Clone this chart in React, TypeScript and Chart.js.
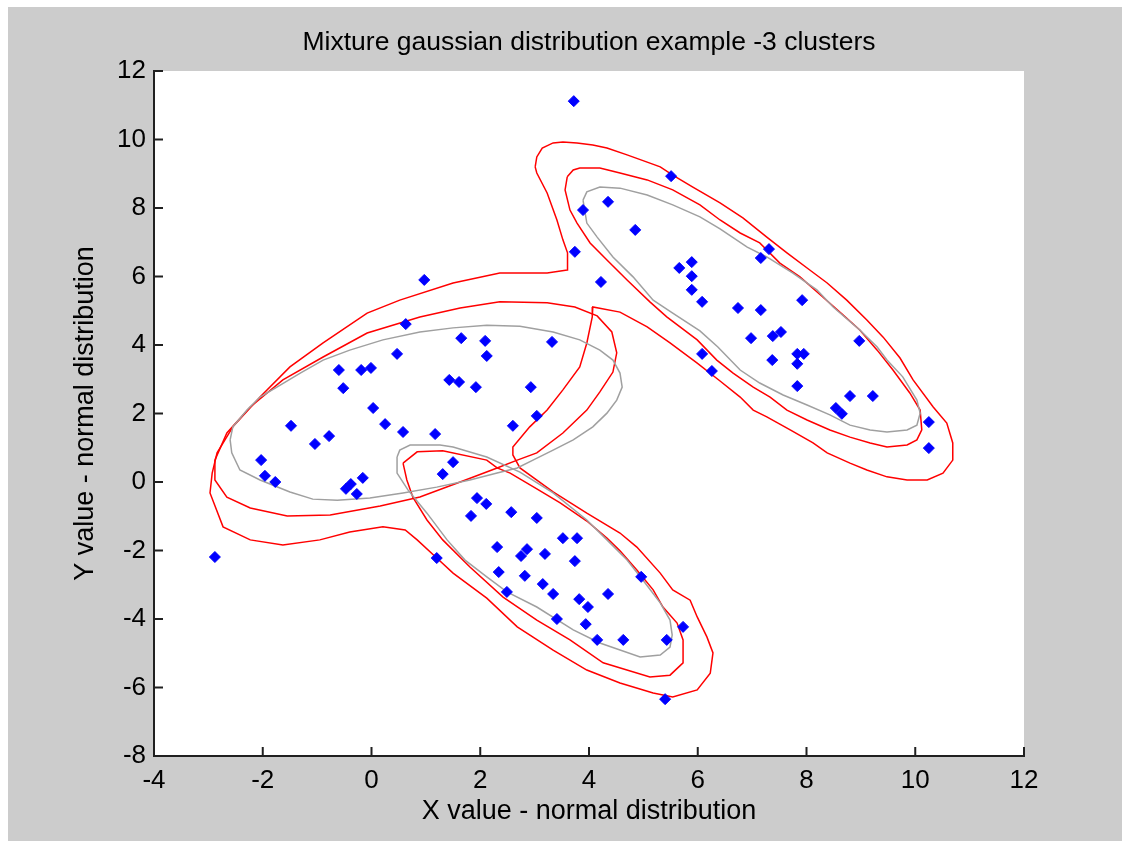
import { useEffect, useRef } from "react";
import { Chart, registerables } from "chart.js";

Chart.register(...registerables);

type Pt = [number, number];

const titleText = "Mixture gaussian distribution example -3 clusters";
const xAxisLabel = "X value - normal distribution";
const yAxisLabel = "Y value - normal distribution";
const xRange = [-4, 12];
const yRange = [-8, 12];
const tickStep = 2;

// sample points
const clusterA: Pt[] = [
  [0.97, 5.9], [0.63, 4.61], [0.47, 3.74], [-0.6, 3.27], [-0.19, 3.27], [-0.01, 3.33],
  [-0.52, 2.74], [1.43, 2.98], [1.61, 2.92], [0.03, 2.16], [-1.48, 1.64], [-0.78, 1.34],
  [-1.04, 1.11], [0.25, 1.69], [0.58, 1.46], [1.17, 1.4], [-2.03, 0.64], [-1.96, 0.18],
  [-1.77, 0.0], [-0.47, -0.2], [-0.38, -0.06], [-0.16, 0.12], [-0.27, -0.35], [1.31, 0.23],
  [1.5, 0.58], [1.65, 4.2], [2.09, 4.12], [2.12, 3.68], [3.32, 4.09], [1.92, 2.77],
  [2.93, 2.77], [3.04, 1.93], [2.6, 1.64], [-2.88, -2.19], [3.72, 11.12],
];
const clusterB: Pt[] = [
  [5.51, 8.93], [3.89, 7.94], [4.35, 8.18], [4.85, 7.36], [3.74, 6.72], [4.22, 5.84],
  [5.66, 6.25], [5.89, 6.42], [5.89, 6.01], [5.89, 5.61], [6.08, 5.26], [7.31, 6.8],
  [7.16, 6.54], [6.74, 5.08], [7.16, 5.02], [7.92, 5.31], [6.98, 4.2], [7.38, 4.26],
  [7.53, 4.38], [8.97, 4.12], [6.08, 3.74], [6.26, 3.24], [7.37, 3.56], [7.83, 3.74],
  [7.95, 3.74], [7.83, 3.45], [7.83, 2.8], [8.8, 2.51], [9.22, 2.51], [8.54, 2.16],
  [8.65, 1.99], [10.25, 1.75], [10.25, 0.99],
];
const clusterC: Pt[] = [
  [1.94, -0.47], [2.11, -0.64], [1.83, -0.99], [2.57, -0.88], [3.04, -1.05], [3.52, -1.64],
  [3.78, -1.64], [2.31, -1.9], [2.86, -1.96], [1.2, -2.22], [2.75, -2.16], [3.19, -2.1],
  [3.74, -2.31], [2.34, -2.63], [2.82, -2.74], [3.15, -2.98], [3.34, -3.27], [3.82, -3.42],
  [3.98, -3.65], [4.35, -3.27], [2.49, -3.21], [4.96, -2.77], [3.41, -4.0], [3.94, -4.15],
  [4.15, -4.61], [4.63, -4.61], [5.43, -4.61], [5.73, -4.23], [5.4, -6.34],
];

// gray component ellipses (traced)
const grayA: Pt[] = [
  [-2.6, 1.23], [-2.55, 1.61], [-2.29, 2.1], [-2.05, 2.48], [-1.74, 2.77], [-1.31, 3.18],
  [-0.89, 3.56], [-0.4, 3.85], [0.21, 4.15], [0.89, 4.38], [1.5, 4.5], [2.12, 4.58],
  [2.73, 4.55], [3.34, 4.38], [3.83, 4.15], [4.2, 3.85], [4.44, 3.56], [4.57, 3.18],
  [4.61, 2.77], [4.51, 2.39], [4.33, 2.01], [4.07, 1.61], [3.71, 1.23], [3.34, 0.93],
  [2.97, 0.64], [2.68, 0.41], [2.31, 0.26], [1.81, 0.06], [1.2, -0.15], [0.58, -0.32],
  [-0.03, -0.47], [-0.63, -0.53], [-1.08, -0.5], [-1.5, -0.29], [-2.05, 0.06], [-2.42, 0.35],
  [-2.57, 0.85], [-2.6, 1.23],
];
const grayB: Pt[] = [
  [3.89, 8.23], [3.96, 8.47], [4.2, 8.61], [4.57, 8.58], [5.07, 8.38], [5.54, 8.09],
  [6.04, 7.74], [6.41, 7.39], [6.91, 6.86], [7.27, 6.57], [7.75, 6.1], [8.19, 5.61],
  [8.49, 5.11], [8.98, 4.44], [9.3, 3.94], [9.48, 3.56], [9.77, 3.07], [10.03, 2.39],
  [10.09, 2.01], [10.03, 1.66], [9.85, 1.52], [9.48, 1.46], [9.17, 1.52], [8.8, 1.66],
  [8.43, 1.96], [8.01, 2.25], [7.57, 2.54], [7.14, 2.89], [6.78, 3.27], [6.37, 3.94],
  [6.04, 4.41], [5.54, 4.93], [5.18, 5.31], [4.81, 5.99], [4.44, 6.57], [4.15, 7.15],
  [3.96, 7.56], [3.89, 8.23],
];
const grayC: Pt[] = [
  [0.47, 0.73], [0.52, 0.93], [0.71, 1.08], [1.26, 1.08], [1.5, 1.02], [2.12, 0.73],
  [2.73, 0.29], [3.34, -0.32], [3.96, -1.11], [4.33, -1.69], [4.7, -2.28], [4.99, -2.86],
  [5.31, -3.53], [5.49, -4.03], [5.53, -4.47], [5.49, -4.82], [5.31, -5.05], [4.94, -5.11],
  [4.2, -4.7], [3.71, -4.32], [3.04, -3.65], [2.49, -3.21], [2.12, -2.77], [1.72, -2.28],
  [1.39, -1.69], [1.02, -0.91], [0.67, -0.23], [0.47, 0.26], [0.47, 0.73],
];

// red density contours (traced)
const redInnerA: Pt[] = [
  [-2.88, 0.64], [-2.66, 1.43], [-2.23, 2.19], [-1.63, 2.98], [-0.89, 3.65], [-0.08, 4.35],
  [0.89, 4.82], [1.63, 5.08], [2.36, 5.26], [3.23, 5.23], [3.74, 5.11], [4.15, 4.85],
  [4.42, 4.38], [4.51, 3.77], [4.44, 3.21], [4.2, 2.63], [3.96, 2.1], [3.52, 1.43],
  [3.04, 0.85], [2.68, 0.64], [2.31, 0.41], [1.63, 0.0], [0.89, -0.44], [0.16, -0.7],
  [-0.76, -0.96], [-1.55, -0.99], [-2.23, -0.76], [-2.66, -0.44], [-2.88, 0.06], [-2.88, 0.64],
];
const redInnerB: Pt[] = [
  [3.6, 8.91], [3.71, 9.11], [3.83, 9.17], [4.2, 9.17], [4.57, 9.02], [5.07, 8.82],
  [5.54, 8.53], [6.04, 8.09], [6.41, 7.65], [6.78, 7.27], [7.14, 6.98], [7.51, 6.39],
  [7.88, 5.99], [8.3, 5.4], [8.67, 4.88], [8.98, 4.44], [9.3, 3.85], [9.59, 3.27],
  [9.9, 2.6], [10.09, 2.1], [10.12, 1.52], [10.03, 1.23], [9.85, 1.08], [9.48, 1.02],
  [9.17, 1.14], [8.8, 1.31], [8.43, 1.52], [8.01, 1.81], [7.64, 2.1], [7.33, 2.48],
  [7.02, 2.77], [6.65, 3.18], [6.35, 3.56], [5.99, 4.15], [5.43, 4.82], [5.12, 5.26],
  [4.7, 5.9], [4.33, 6.48], [4.02, 6.98], [3.78, 7.56], [3.65, 7.94], [3.56, 8.53], [3.6, 8.91],
];
const redInnerC: Pt[] = [
  [0.58, 0.55], [0.84, 0.88], [1.31, 0.91], [2.12, 0.64], [2.31, 0.41], [2.55, 0.26],
  [3.04, -0.2], [3.47, -0.61], [3.96, -1.14], [4.33, -1.64], [4.57, -2.01], [4.88, -2.57],
  [5.18, -3.15], [5.36, -3.65], [5.62, -4.12], [5.73, -4.61], [5.73, -5.28], [5.49, -5.64],
  [5.12, -5.69], [4.26, -5.28], [3.65, -4.61], [3.04, -4.03], [2.42, -3.36], [1.81, -2.48],
  [1.31, -1.69], [1.02, -1.11], [0.76, -0.44], [0.65, 0.06], [0.58, 0.55],
];
const redOuter: Pt[] = [
  [3.01, 9.2], [3.04, 9.49], [3.14, 9.75], [3.34, 9.9], [3.52, 9.93], [3.78, 9.9],
  [4.07, 9.84], [4.33, 9.75], [4.7, 9.55], [5.07, 9.34], [5.31, 9.2], [5.54, 8.96],
  [5.91, 8.61], [6.41, 8.15], [6.83, 7.71], [7.27, 7.15], [7.64, 6.69], [8.06, 6.19],
  [8.38, 5.81], [8.74, 5.31], [9.11, 4.73], [9.41, 4.23], [9.72, 3.62], [9.96, 2.98],
  [10.33, 2.19], [10.58, 1.72], [10.69, 1.14], [10.69, 0.64], [10.51, 0.26], [10.22, 0.06],
  [9.85, 0.06], [9.48, 0.15], [9.11, 0.35], [8.8, 0.55], [8.38, 0.85], [8.12, 1.14],
  [7.7, 1.52], [7.27, 1.9], [7.02, 2.1], [6.78, 2.48], [6.41, 2.95], [5.99, 3.47],
  [5.49, 4.06], [5.07, 4.53], [4.57, 4.96], [4.07, 5.11], [4.06, 4.82], [3.96, 4.06],
  [3.83, 3.36], [3.52, 2.69], [3.23, 2.1], [2.91, 1.61], [2.6, 1.02], [2.6, 0.79],
  [2.73, 0.41], [3.34, -0.29], [3.96, -0.91], [4.57, -1.49], [4.88, -1.9], [5.31, -2.66],
  [5.54, -3.15], [5.86, -3.45], [5.99, -3.94], [6.17, -4.53], [6.28, -4.99], [6.23, -5.58],
  [5.99, -6.07], [5.54, -6.28], [5.18, -6.16], [4.57, -5.87], [3.96, -5.49], [3.34, -4.91],
  [2.68, -4.23], [2.12, -3.39], [1.5, -2.66], [1.2, -2.22], [0.84, -1.69], [0.62, -1.4],
  [0.21, -1.31], [-0.4, -1.46], [-0.95, -1.69], [-1.63, -1.84], [-2.23, -1.69], [-2.73, -1.31],
  [-2.97, -0.32], [-2.93, 0.26], [-2.84, 0.85], [-2.55, 1.61], [-2.05, 2.48], [-1.5, 3.36],
  [-0.89, 4.06], [-0.08, 4.93], [0.52, 5.31], [1.5, 5.81], [2.36, 6.1], [3.23, 6.1],
  [3.6, 6.19], [3.61, 6.34], [3.6, 6.69], [3.52, 7.07], [3.41, 7.65], [3.23, 8.44],
  [3.04, 9.02], [3.01, 9.2],
];

const FONT = "'Liberation Sans', Arial, Helvetica, sans-serif";
const CANVAS_W = 1122;
const CANVAS_H = 841;

export default function App() {
  const ref = useRef<HTMLCanvasElement | null>(null);

  useEffect(() => {
    document.documentElement.style.overflow = "hidden";
    document.body.style.margin = "0";
    const canvas = ref.current;
    if (!canvas) return;
    const xy = (a: Pt[]) => a.map(([x, y]) => ({ x, y }));

    const pointDs = (data: Pt[]) => ({
      data: xy(data),
      showLine: false,
      pointStyle: "rectRot" as const,
      pointRadius: 5.5,
      pointBackgroundColor: "#0000ff",
      pointBorderColor: "#0000ff",
      pointBorderWidth: 1,
    });
    const lineDs = (data: Pt[], color: string) => ({
      data: xy(data),
      showLine: true,
      borderColor: color,
      borderWidth: 1.5,
      pointRadius: 0,
      fill: false,
      tension: 0,
    });

    const bgPlugin = {
      id: "figureBg",
      beforeDraw(chart: any) {
        const { ctx, chartArea } = chart;
        ctx.save();
        ctx.fillStyle = "#ffffff";
        ctx.fillRect(0, 0, chart.width, chart.height);
        ctx.fillStyle = "#cccccc";
        ctx.fillRect(8, 7, chart.width - 8, chart.height - 7);
        ctx.fillStyle = "#ffffff";
        ctx.fillRect(chartArea.left, chartArea.top, chartArea.right - chartArea.left, chartArea.bottom - chartArea.top);
        ctx.restore();
      },
    };
    const tickPlugin = {
      id: "inwardTicks",
      afterDraw(chart: any) {
        const { ctx, chartArea, scales } = chart;
        ctx.save();
        ctx.strokeStyle = "#202020";
        ctx.lineWidth = 2;
        ctx.beginPath();
        for (const t of scales.x.ticks) {
          const px = scales.x.getPixelForValue(t.value);
          ctx.moveTo(px, chartArea.bottom);
          ctx.lineTo(px, chartArea.bottom - 9);
        }
        for (const t of scales.y.ticks) {
          const py = scales.y.getPixelForValue(t.value);
          ctx.moveTo(chartArea.left, py);
          ctx.lineTo(chartArea.left + 9, py);
        }
        ctx.stroke();
        ctx.restore();
      },
    };

    const tickFont = { family: FONT, size: 26, weight: "normal" as const, lineHeight: 1.2 };
    const labelFont = { family: FONT, size: 27, weight: "normal" as const, lineHeight: 1.2 };

    const chart = new Chart(canvas, {
      type: "scatter",
      data: {
        datasets: [
          pointDs(clusterA),
          pointDs(clusterB),
          pointDs(clusterC),
          lineDs(grayA, "#a0a0a0"),
          lineDs(grayB, "#a0a0a0"),
          lineDs(grayC, "#a0a0a0"),
          lineDs(redInnerA, "#ff0000"),
          lineDs(redInnerB, "#ff0000"),
          lineDs(redInnerC, "#ff0000"),
          lineDs(redOuter, "#ff0000"),
        ] as any,
      },
      options: {
        responsive: false,
        animation: false,
        events: [],
        layout: { padding: { left: 0, right: 98, top: 0, bottom: 0 } },
        plugins: {
          legend: { display: false },
          tooltip: { enabled: false },
          title: {
            display: true,
            text: titleText,
            fullSize: false,
            color: "#000",
            font: { family: FONT, size: 26.5, weight: "normal", lineHeight: 1.2 },
            padding: { top: 26.5, bottom: 12.7 },
          },
        },
        scales: {
          x: {
            type: "linear",
            min: xRange[0],
            max: xRange[1],
            grid: { display: false },
            border: { display: true, color: "#202020", width: 2 },
            ticks: { stepSize: tickStep, color: "#000", font: tickFont, padding: 1, maxRotation: 0, autoSkip: false },
            title: { display: true, text: xAxisLabel, color: "#000", font: labelFont, padding: { top: 0, bottom: 12.8 } },
            afterFit: (s: any) => {
              s.height = 85;
            },
          },
          y: {
            type: "linear",
            min: yRange[0],
            max: yRange[1],
            grid: { display: false },
            border: { display: true, color: "#202020", width: 2 },
            ticks: { stepSize: tickStep, color: "#000", font: tickFont, padding: 0, autoSkip: false },
            title: { display: true, text: yAxisLabel, color: "#000", font: labelFont, padding: { top: 69.8, bottom: 0 } },
            afterFit: (s: any) => {
              s.width = 154;
            },
          },
        },
      } as any,
      plugins: [bgPlugin, tickPlugin],
    });
    return () => chart.destroy();
  }, []);

  return (
    <canvas
      ref={ref}
      width={CANVAS_W}
      height={CANVAS_H}
      style={{ display: "block", width: CANVAS_W + "px", height: CANVAS_H + "px" }}
    />
  );
}
